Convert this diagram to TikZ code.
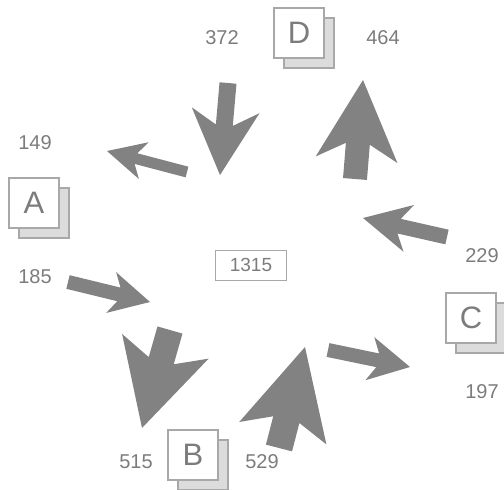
\documentclass[tikz,border=0pt]{standalone}
\usepackage{fontspec}
\setmainfont{Liberation Sans}
\usetikzlibrary{calc}
\definecolor{txtgray}{HTML}{7C7C7C}
\definecolor{arrgray}{HTML}{828282}
\definecolor{boxline}{HTML}{A8A8A8}
\definecolor{shadowfill}{HTML}{DCDCDC}
\tikzset{
  arrowfill/.style={fill=arrgray},
  numlabel/.style={text=txtgray, font=\fontsize{20}{20}\selectfont, inner sep=0pt},
  letterbox/.style={draw=boxline, line width=1.2pt, fill=white, minimum width=50pt, minimum height=50pt, inner sep=0pt, text=txtgray, font=\fontsize{31}{31}\selectfont},
  shadowbox/.style={draw=boxline, line width=1.2pt, fill=shadowfill, minimum width=50pt, minimum height=50pt, inner sep=0pt},
  totalbox/.style={draw=boxline, line width=1pt, fill=white, minimum width=71pt, minimum height=30pt, inner sep=0pt, text=txtgray, font=\fontsize{19}{19}\selectfont}
}
\newcommand\fatarrow[7]{%
  \coordinate (#7t) at #1;
  \coordinate (#7p) at #2;
  \coordinate (#7bc) at ($(#7p)!#5pt!(#7t)$);
  \coordinate (#7jc) at ($(#7p)!#6pt!(#7t)$);
  \fill[arrowfill] (#7p) -- ($(#7bc)!#4pt!90:(#7p)$) -- ($(#7jc)!#3pt!90:(#7p)$)
    -- ($(#7t)!#3pt!90:(#7p)$) -- ($(#7t)!#3pt!-90:(#7p)$)
    -- ($(#7jc)!#3pt!-90:(#7p)$) -- ($(#7bc)!#4pt!-90:(#7p)$) -- cycle;
}
\begin{document}
\begin{tikzpicture}[x=1pt,y=-1pt]
\useasboundingbox (0,0) rectangle (504,490);
% letter boxes with stacked shadow
\node[shadowbox] (Ash) at (44,213) {};
\node[letterbox] (A) at (34,203) {A};
\node[shadowbox] (Bsh) at (203,465) {};
\node[letterbox] (B) at (193,455) {B};
\node[shadowbox] (Csh) at (481,328) {};
\node[letterbox] (C) at (471,318) {C};
\node[shadowbox] (Dsh) at (309,43) {};
\node[letterbox] (D) at (299,33) {D};
% total
\node[totalbox] (T) at (251,265) {1315};
% numbers
\node[numlabel] (n372) at (222,38) {372};
\node[numlabel] (n464) at (383,38) {464};
\node[numlabel] (n149) at (35,143) {149};
\node[numlabel] (n185) at (35,277) {185};
\node[numlabel] (n229) at (482,256) {229};
\node[numlabel] (n197) at (482,392) {197};
\node[numlabel] (n515) at (136,462) {515};
\node[numlabel] (n529) at (262,462) {529};
% fat arrows: tail, tip, shaft half-width, head half-width, barb back, join back
\fatarrow{(187,172)}{(107,151)}{5.5}{19}{38}{30}{a149}
\fatarrow{(68,282)}{(150,302)}{7}{21}{40}{32}{a185}
\fatarrow{(228,83)}{(220,175)}{8.5}{34}{65}{50}{a372}
\fatarrow{(355,179)}{(363,80)}{12}{41}{80}{64}{a464}
\fatarrow{(447,237)}{(363,218)}{7.5}{24}{47}{37}{a229}
\fatarrow{(328,350)}{(410,367)}{7}{22}{41}{33}{a197}
\fatarrow{(170,330)}{(142,428)}{13}{45}{85}{70}{a515}
\fatarrow{(279,448)}{(305,347)}{13.5}{45}{89}{75}{a529}
\end{tikzpicture}
\end{document}
